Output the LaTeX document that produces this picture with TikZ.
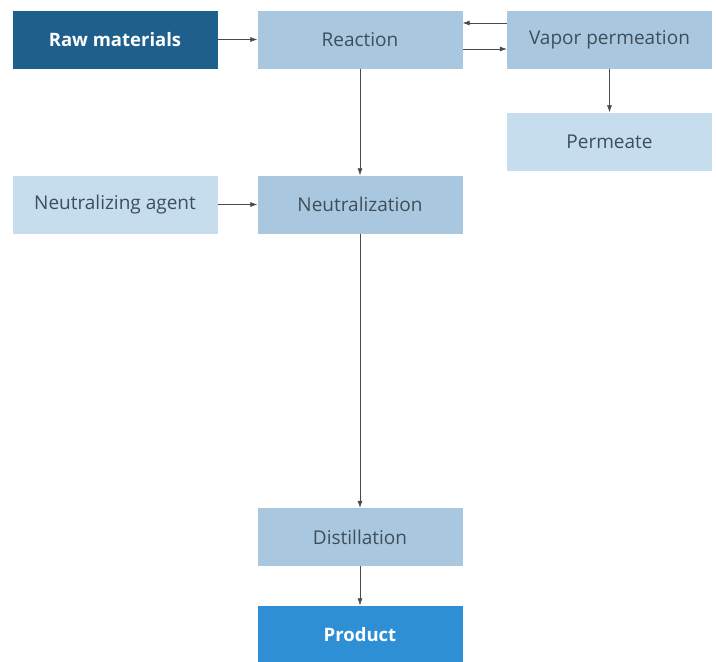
\documentclass[tikz,border=0pt]{standalone}
\usepackage{fontspec}
\setmainfont{Open Sans}
\usetikzlibrary{arrows.meta}
\definecolor{darkbox}{HTML}{1F5F8B}
\definecolor{midbox}{HTML}{A9C8E0}
\definecolor{lightbox}{HTML}{C6DDEE}
\definecolor{prodbox}{HTML}{2E8FD4}
\definecolor{txt}{HTML}{3E4E5A}
\definecolor{arr}{HTML}{4A4A4A}
\begin{document}
\begin{tikzpicture}[x=1pt,y=-1pt,
  box/.style={draw=none,minimum width=205pt,minimum height=58pt,inner sep=0pt,font=\fontsize{19}{22}\selectfont,text=txt},
  mid/.style={box,fill=midbox},
  light/.style={box,fill=lightbox},
  dark/.style={box,fill=darkbox,text=white,font=\fontsize{18.5}{22}\selectfont\bfseries},
  prod/.style={box,fill=prodbox,text=white,font=\fontsize{18.5}{22}\selectfont\bfseries},
  flow/.style={draw=arr,line width=0.6pt,-{Latex[length=7pt,width=5pt]}}]
\useasboundingbox (0,0) rectangle (716,662);
\fill[white] (0,0) rectangle (716,662);
\node[dark]  (raw)   at (115,39.5) {Raw materials};
\node[mid]   (react) at (360,39.5) {Reaction};
\node[mid]   (vap)   at (609.5,39.5) {Vapor permeation};
\node[light] (perm)  at (609.5,141.5) {Permeate};
\node[light] (nagent) at (115,204.5) {Neutralizing agent};
\node[mid]   (neut)  at (360,204.5) {Neutralization};
\node[mid]   (dist)  at (360,537) {Distillation};
\node[prod]  (prod)  at (360,634.5) {Product};
\draw[flow] (raw.east) -- (react.west);
\draw[flow] ([yshift=16.5pt]vap.west) -- ([yshift=16.5pt]react.east);
\draw[flow] ([yshift=-9.5pt]react.east) -- ([yshift=-9.5pt]vap.west);
\draw[flow] (vap.south) -- (perm.north);
\draw[flow] (react.south) -- (neut.north);
\draw[flow] (nagent.east) -- (neut.west);
\draw[flow] (neut.south) -- (dist.north);
\draw[flow] (dist.south) -- (prod.north);
\end{tikzpicture}
\end{document}
